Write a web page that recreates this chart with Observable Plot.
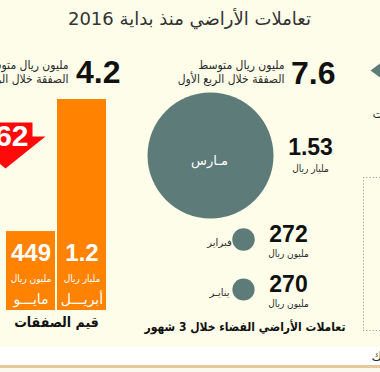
<!DOCTYPE html>
<html><head><meta charset="utf-8">
<script src="https://cdn.jsdelivr.net/npm/d3@7"></script>
<script src="https://cdn.jsdelivr.net/npm/@observablehq/plot@0.6"></script>
<style>
html,body{margin:0;padding:0;background:#fff;}
#chart{position:relative;width:380px;height:372px;overflow:hidden;
  background:linear-gradient(to bottom,#fdfde9 0,#fdfde9 347px,#ffffff 347px,#ffffff 365px,#e8c79c 365px,#e8c79c 368px,#fbf8ee 368px);}
#chart svg{position:absolute;left:0;top:0;background:transparent;}
</style></head><body><div id="chart"></div>
<script>
// ---- data ----
const title = "تعاملات الأراضي منذ بداية 2016";
const barMonths = ["مايـــو", "أبريـــل"];
const barValues = [449, 1200];               // million riyals
const barLabels = ["449", "1.2"];
const barUnits = ["مليون ريال", "مليار ريال"];
const barCaption = "قيم الصفقات";

const bubbleMonths = ["مـارس", "فبراير", "ينايـر"];
const bubbleValues = [1530, 272, 270];       // million riyals
const bubbleLabels = ["1.53", "272", "270"];
const bubbleUnits = ["مليار ريال", "مليون ريال", "مليون ريال"];
const bubbleCaption = "تعاملات الأراضي الفضاء خلال 3 شهور";

const avgValues = ["7.6", "4.2"];
const avgLine1 = ["مليون ريال متوسط", "مليون ريال متوسط"];
const avgLine2 = ["الصفقة خلال الربع الأول", "الصفقة خلال الربع الثاني"];
const changeLabel = "62";

// ---- style / layout ----
const W = 380, H = 372;
const teal = "#5c7b79", orange = "#ff8200", red = "#ff0a0a", ink = "#2a2a2a";
const arabic = "DejaVu Sans, sans-serif";
const arabicNarrow = "DejaVu Sans Condensed, DejaVu Sans, sans-serif";
const numFont = "Liberation Sans, Arial, sans-serif";
const chart = document.getElementById("chart");

// Bars layer
const bars = barMonths.map((m, i) => ({month: m, value: barValues[i], label: barLabels[i], unit: barUnits[i]}));
const barPlot = Plot.plot({
  width: W, height: H,
  marginTop: 99, marginBottom: 62, marginLeft: 6, marginRight: 274,
  style: {background: "transparent", overflow: "hidden"},
  x: {type: "band", domain: barMonths, paddingInner: 0.04, paddingOuter: 0, axis: null},
  y: {domain: [0, 1200], axis: null},
  marks: [
    Plot.barY(bars, {x: "month", y: "value", fill: orange}),
    Plot.text(bars, {x: "month", frameAnchor: "bottom", lineAnchor: "middle", dy: -57, text: "label", fill: "white", fontSize: 24, fontWeight: "bold", fontFamily: numFont}),
    Plot.text(bars, {x: "month", frameAnchor: "bottom", lineAnchor: "middle", dy: -32, text: "unit", fill: "white", fontSize: 10, fontFamily: arabicNarrow}),
    Plot.text(bars, {x: "month", frameAnchor: "bottom", lineAnchor: "middle", dy: -11, text: "month", fill: "white", fontSize: 14, fontFamily: arabic})
  ]
});
chart.appendChild(barPlot);

// Bubble + text layer (pixel positions)
const bubbleLayout = [
  {cx: 210, cy: 155, nx: 310, ny: 147, ux: 310, uy: 168, mx: 209, my: 160, ma: "middle", mf: "white"},
  {cx: 243, cy: 239, nx: 288, ny: 234, ux: 288, uy: 253, mx: 219, my: 242, ma: "end", mf: ink},
  {cx: 243, cy: 289, nx: 288, ny: 284, ux: 288, uy: 303, mx: 219, my: 292, ma: "end", mf: ink}
];
const bubbles = bubbleMonths.map((m, i) => ({month: m, value: bubbleValues[i], label: bubbleLabels[i], unit: bubbleUnits[i], ...bubbleLayout[i]}));

const avgLayout = [{x: 335, tx: 284, y: 73}, {x: 120, tx: 68, y: 72}];
const avgs = avgValues.map((v, i) => ({v, l1: avgLine1[i], l2: avgLine2[i], ...avgLayout[i]}));

const arrow = [[-25,122],[32,122],[32,136],[45,136],[5,168],[-35,136],[-25,136]];
const tri = [[381,62],[370,70],[381,78]];

const layer = Plot.plot({
  width: W, height: H, margin: 0,
  style: {background: "transparent", overflow: "hidden"},
  x: {type: "identity"}, y: {type: "identity"},
  r: {type: "linear", domain: [0, 1530], range: [0, 63]},
  marks: [
    // dotted frame at right
    Plot.ruleX([363], {y1: 177, y2: 330, stroke: "#9a9a9a", strokeDasharray: "1.2,2"}),
    Plot.ruleY([177, 330], {x1: 363, x2: 381, stroke: "#9a9a9a", strokeDasharray: "1.2,2"}),
    Plot.line(tri, {fill: teal, stroke: "none"}),
    Plot.line(arrow, {fill: red, stroke: "none"}),
    Plot.text([changeLabel], {x: 28, y: 136, text: d => d, textAnchor: "end", fill: "white", fontSize: 30, fontWeight: "bold", fontFamily: numFont}),
    // title
    Plot.text([title], {x: 189, y: 19, text: d => d, fontSize: 18, fill: "#333", fontFamily: arabic}),
    // averages
    Plot.text(avgs, {x: "x", y: "y", text: "v", textAnchor: "end", fontSize: 32, fontWeight: "bold", fill: "#111", fontFamily: numFont}),
    Plot.text(avgs, {x: "tx", y: 65, text: "l1", textAnchor: "end", fontSize: 12, fill: ink, fontFamily: arabicNarrow}),
    Plot.text(avgs, {x: "tx", y: 79, text: "l2", textAnchor: "end", fontSize: 12, fill: ink, fontFamily: arabicNarrow}),
    // bubbles
    Plot.dot(bubbles, {x: "cx", y: "cy", r: "value", fill: teal}),
    Plot.text(bubbles, {x: "mx", y: "my", text: "month", textAnchor: d => d.ma, fill: d => d.mf, fontSize: d => d.ma === "middle" ? 13 : 10, fontFamily: arabic}),
    Plot.text(bubbles, {x: "nx", y: "ny", text: "label", fontSize: 23, fontWeight: "bold", fill: "#111", fontFamily: numFont}),
    Plot.text(bubbles, {x: "ux", y: "uy", text: "unit", fontSize: 10, fill: ink, fontFamily: arabicNarrow}),
    // captions
    Plot.text([barCaption], {x: 56, y: 322, text: d => d, fontSize: 14, fontWeight: "bold", fill: "#111", fontFamily: arabicNarrow}),
    Plot.text([bubbleCaption], {x: 345, y: 327, text: d => d, textAnchor: "end", fontSize: 12, fontWeight: "bold", fill: "#111", fontFamily: arabicNarrow}),
    // cut-off fragments at the right edge
    Plot.text(["ت"], {x: 372, y: 114, text: d => d, textAnchor: "start", fontSize: 12, fill: ink, fontFamily: arabic}),
    Plot.text(["ك"], {x: 371, y: 356, text: d => d, textAnchor: "start", fontSize: 13, fill: ink, fontFamily: arabic})
  ]
});
chart.appendChild(layer);
</script></body></html>
